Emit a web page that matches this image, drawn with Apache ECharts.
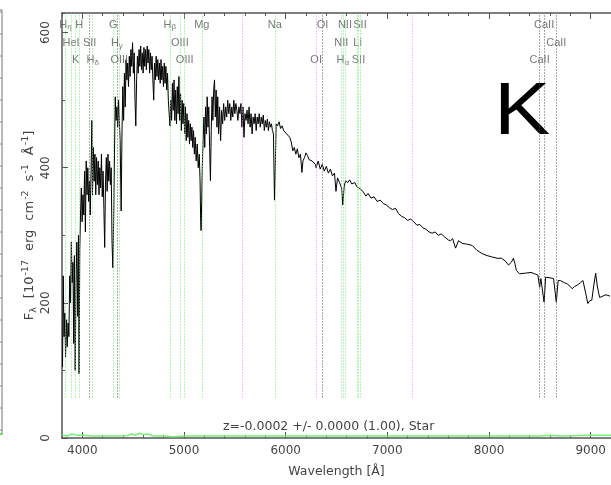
<!DOCTYPE html>
<html><head><meta charset="utf-8">
<script src="https://cdn.jsdelivr.net/npm/echarts@6/dist/echarts.min.js"></script>
<style>html,body{margin:0;padding:0;background:#fff}#c{width:611px;height:485px}</style>
</head><body><div id="c"></div>
<script>
// ---------------- DATA ----------------
const specWave = [
 3805,3812,3820,3828,3835,3845,3852,3860,3868,3876,3884,3892,3900,3908,3915,3922,3930,3938,3946,3955,3962,3968,
 3975,3982,3990,3998,4006,4014,4022,4030,4038,4046,4054,4062,4070,4078,4086,4094,4100,
 4108,4116,4124,4132,4140,4148,4156,4164,4172,4180,4188,4196,4204,4212,4220,4228,4236,4244,4252,4260,4268,4276,4284,4292,4300,
 4308,4316,4324,4332,4340,4348,4356,4364,4372,4382,4390,4398,4406,4414,4422,4430,4438,4446,4454,4462,4470,4478,4486,4494,4502,
 4510,4518,4526,4534,4542,4550,4558,4566,4574,4582,4590,4598,4606,4614,4622,4630,4638,4646,4654,4662,4670,4678,4686,4694,4702,
 4710,4718,4726,4734,4742,4750,4758,4766,4774,4782,4790,4798,4806,4814,4822,4830,4838,4846,4854,4862,4870,4878,4886,4894,4902,
 4910,4918,4926,4934,4942,4950,4958,4966,4974,4982,4990,4998,5006,5014,5022,5030,5038,5046,5054,5062,5070,5078,5086,5094,5102,
 5110,5120,5130,5140,5150,5158,5164,5168,5174,5180,5188,5196,5204,5212,5220,5228,5236,5244,5252,5260,5268,5276,5284,5292,5300,
 5308,5316,5324,5332,5340,5350,5360,5370,5380,5390,5400,5410,5420,5430,5440,5450,5460,5470,5480,5490,5500,5510,5520,5530,5540,
 5550,5560,5570,5580,5590,5600,5610,5620,5630,5640,5650,5660,5670,5680,5690,5700,5710,5720,5730,5740,5750,5760,5770,5780,5790,
 5800,5810,5820,5830,5840,5850,5860,5870,5880,5890,5898,5906,5920,5935,5950,5965,5980,5995,6010,6025,6040,6055,6070,6085,6100,
 6115,6130,6145,6160,6170,6185,6200,6215,6230,6260,6292,6300,6320,6340,6360,6380,6400,6420,6440,
 6460,6480,6495,6510,6530,6550,6562,6575,6590,6610,6630,6650,6680,6700,6730,6760,6790,
 6810,6840,6870,6900,6930,6960,6990,7020,7050,7080,7110,7140,7170,7200,7230,
 7260,7290,7320,7350,7380,7410,7440,7470,7500,7530,7560,7600,7622,7642,
 7671,7700,7738,7780,7835,7880,7931,7980,8028,8080,8124,8160,8192,8220,8240,8255,8269,8300,
 8317,8360,8413,8450,8481,8498,8510,8529,8542,8557,8600,8635,8662,8680,8702,8740,
 8770,8800,8818,8840,8866,8900,8924,8950,8972,8990,9011,9030,9049,9065,9088,9120,9150,9190
];
const specFlux = [
 105,240,150,185,120,175,135,170,150,240,200,290,230,260,140,270,100,230,290,180,300,95,
 280,330,370,320,360,330,395,305,410,360,400,350,380,330,395,470,360,
 430,380,420,360,415,375,410,360,400,370,420,357,395,340,282,380,415,365,420,380,410,375,400,290,252,
 320,420,505,470,490,460,500,470,440,336,450,520,470,540,490,560,530,555,520,565,535,575,550,585,540,
 570,500,462,530,565,540,575,550,580,545,570,540,578,550,575,545,580,555,575,540,570,545,565,530,500,
 555,530,565,535,560,530,555,525,560,530,550,520,555,525,550,515,540,500,480,462,500,470,525,485,530,
 470,515,465,520,480,535,470,510,455,500,465,495,450,490,440,480,445,470,435,465,440,460,430,455,420,
 445,410,435,400,420,380,320,307,350,402,440,475,430,490,450,505,460,490,430,381,455,505,470,515,530,
 475,515,460,505,450,490,440,485,465,495,470,490,475,500,480,495,470,490,475,500,480,495,485,470,490,
 480,495,460,490,445,480,470,485,465,490,460,480,450,475,465,480,455,475,465,480,460,475,465,478,455,
 470,460,472,455,468,460,465,455,450,352,400,465,462,468,458,462,455,455,450,452,445,438,425,430,420,
 428,415,420,393,410,415,422,418,412,410,405,400,410,398,405,395,402,392,398,
 388,392,365,385,378,370,345,372,381,378,382,376,378,372,369,365,358,
 362,355,357,350,352,347,345,341,338,340,332,328,326,322,324,
 320,315,316,311,309,305,303,305,300,302,298,293,292,295,
 281,292,288,287,285,278,273,270,268,266,266,262,256,260,266,258,248,243,
 241,244,245,243,241,223,236,236,201,238,237,236,201,233,233,230,
 228,224,221,224,226,230,233,215,199,203,204,225,244,225,208,210,212,210
];
const errWave = [3800,3850,3900,3950,4000,4100,4200,4300,4400,4450,4480,4520,4560,4600,4640,4700,4800,4900,5000,5500,6000,6500,7000,7500,8000,8500,8600,8700,9000,9200];
const errFlux = [5,3,6,4,4,3,3,3,3,4,6,4,7,5,6,3,3,2,3,3,3,3,3,3,3,3,4,3,4,4];

const lineWave  = [3835,3889,3934,3969,4072,4102,4305,4340,4363,4861,4959,5007,5175,5577,5894,6300,6363,6548,6563,6583,6707,6716,6731,7246,8498,8542,8662];
const lineName  = ['H_η','HeI','K','H','SII','H_δ','G','H_γ','OIII','H_β','OIII','OIII','Mg','','Na','OI','OI','NII','H_α','NII','Li','SII','SII','','CaII','CaII','CaII'];
const lineGroup = ['g','g','g','g','k','g','g','k','g','g','g','g','g','m','g','m','k','g','g','g','g','g','g','m','k','k','k'];
const lineTier  = [1,2,3,1,2,3,1,2,3,1,2,3,1,0,1,3,1,2,3,1,2,3,1,0,3,1,2];

const xMajorTicks = [4000,5000,6000,7000,8000,9000];
const yMajorTicks = [0,200,400,600];
const redshiftText = 'z=-0.0002 +/- 0.0000 (1.00), Star';
const classText = 'K';

// ---------------- STYLE ----------------
const FONT = 'DejaVu Sans';
const LFONT = 'Liberation Sans';
const AX = '#555';
const TXT = '#444';
const X0 = 3800, X1 = 9200, Y0 = 0, Y1 = 629;
const groupColor = {g:'#74e874', k:'#555555', m:'#ff80ff'};
const tierY = {1:612, 2:584, 3:559};
const lineBottom = 60, lineTop = 628;

const chart = echarts.init(document.getElementById('c'), null, {renderer:'canvas'});

const markData = lineWave.map((w,i)=>[
  {coord:[w,lineBottom], lineStyle:{color:groupColor[lineGroup[i]], type:[1,2], width:1}},
  {coord:[w,lineTop]}
]);
const labelData = [];
lineWave.forEach((w,i)=>{ if(lineName[i]) labelData.push({value:[w,tierY[lineTier[i]]], name:lineName[i]}); });

function richName(n){
  const p = n.split('_');
  return p.length>1 ? '{b|'+p[0]+'}{s|'+p[1]+'}' : '{b|'+n+'}';
}

const xCommon = {type:'value', min:X0, max:X1, splitLine:{show:false}};
const yCommon = {type:'value', min:Y0, max:Y1, splitLine:{show:false}};

const option = {
  animation:false,
  backgroundColor:'#fff',
  grid:[
    {left:62, top:13, right:-11, bottom:47},
    {left:62, top:13, right:-11, bottom:47}
  ],
  xAxis:[
    Object.assign({}, xCommon, {gridIndex:0, position:'bottom',
      axisLine:{show:true, lineStyle:{color:AX, width:1.5}},
      axisTick:{show:true, inside:true, length:6, customValues:xMajorTicks, lineStyle:{color:AX}},
      axisLabel:{show:true, customValues:xMajorTicks, formatter:v=>String(v), color:TXT, fontSize:12, fontFamily:FONT, margin:7},
      name:'Wavelength [Å]', nameLocation:'middle', nameGap:27,
      nameTextStyle:{color:TXT, fontSize:12.5, fontFamily:FONT}}),
    Object.assign({}, xCommon, {gridIndex:0, position:'top',
      axisLine:{show:true, lineStyle:{color:AX, width:1.5}},
      axisTick:{show:true, inside:true, length:6, customValues:xMajorTicks, lineStyle:{color:AX}},
      axisLabel:{show:false}}),
    Object.assign({}, xCommon, {gridIndex:1, position:'bottom', interval:200,
      axisLine:{show:false}, axisTick:{show:true, inside:true, length:3, lineStyle:{color:AX}},
      axisLabel:{show:false}}),
    Object.assign({}, xCommon, {gridIndex:1, position:'top', interval:200,
      axisLine:{show:false}, axisTick:{show:true, inside:true, length:3, lineStyle:{color:AX}},
      axisLabel:{show:false}})
  ],
  yAxis:[
    Object.assign({}, yCommon, {gridIndex:0, position:'left',
      axisLine:{show:true, lineStyle:{color:AX, width:1.5}},
      axisTick:{show:true, inside:true, length:6, customValues:yMajorTicks, lineStyle:{color:AX}},
      axisLabel:{show:true, customValues:yMajorTicks, formatter:v=>String(v), rotate:90, color:TXT, fontSize:12, fontFamily:FONT, margin:10},
      name:'{t|F}{sub|λ}{g|}{t|[10}{sup|-17}{g|}{t|erg}{g|}{t|cm}{sup|-2}{g|}{t|s}{sup|-1}{g|}{t|Å}{sup|-1}{t|]}',
      nameLocation:'middle', nameRotate:90, nameGap:23, nameMoveOverlap:false,
      nameTextStyle:{color:TXT, fontFamily:FONT, rich:{
        t:{fontSize:13, color:TXT, fontFamily:FONT, lineHeight:18, verticalAlign:'middle'},
        g:{width:9, lineHeight:18},
        sup:{fontSize:9.5, color:TXT, fontFamily:FONT, lineHeight:18, verticalAlign:'top', padding:[0,0,0,1]},
        sub:{fontSize:9.5, color:TXT, fontFamily:FONT, lineHeight:18, verticalAlign:'bottom'}
      }}}),
    Object.assign({}, yCommon, {gridIndex:1, position:'left', interval:100,
      axisLine:{show:false}, axisTick:{show:true, inside:true, length:3, lineStyle:{color:AX}},
      axisLabel:{show:false}})
  ],
  series:[
    {type:'line', name:'error', xAxisIndex:0, yAxisIndex:0, z:1,
     data:errWave.map((w,i)=>[w,errFlux[i]]), symbol:'none',
     lineStyle:{color:'#77ee77', width:1.5},
     markLine:{silent:true, symbol:['none','none'], label:{show:false}, animation:false, data:markData}},
    {type:'line', name:'flux', xAxisIndex:0, yAxisIndex:0, z:3,
     data:specWave.map((w,i)=>[w,specFlux[i]]), symbol:'none',
     lineStyle:{color:'#000', width:1}},
    {type:'scatter', name:'labels', xAxisIndex:0, yAxisIndex:0, z:4,
     data:labelData, symbolSize:1, itemStyle:{color:'rgba(0,0,0,0)'},
     label:{show:true, position:'inside', formatter:p=>richName(p.name),
       rich:{b:{fontSize:11, color:'#555', fontFamily:LFONT},
             s:{fontSize:8, color:'#555', fontFamily:LFONT, verticalAlign:'bottom', padding:[4,0,0,0]}}}}
  ],
  graphic:[
    {type:'text', x:494, y:77, scaleX:1.14, style:{text:classText, fontSize:74, fontFamily:LFONT, fill:'#000'}},
    {type:'text', left:223, top:420, style:{text:redshiftText, fontSize:12.5, fontFamily:FONT, fill:TXT}},
    {type:'line', shape:{x1:2, y1:10, x2:2, y2:435}, style:{stroke:'#777', lineWidth:1}},
    {type:'line', shape:{x1:0, y1:10, x2:2, y2:10}, style:{stroke:'#777', lineWidth:1}},
    {type:'line', shape:{x1:0, y1:434, x2:2, y2:434}, style:{stroke:'#55e055', lineWidth:2}}
  ]
};
// left-strip tick decorations
for (let y=12; y<432; y+=22) option.graphic.push({type:'line', shape:{x1:0,y1:y,x2:2,y2:y}, style:{stroke:'#888', lineWidth:1}});
chart.setOption(option);
</script>
</body></html>
